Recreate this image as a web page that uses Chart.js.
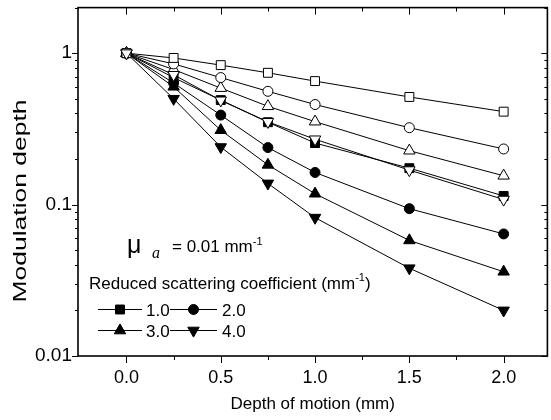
<!DOCTYPE html>
<html>
<head>
<meta charset="utf-8">
<title>Modulation depth vs depth of motion</title>
<script src="https://cdn.jsdelivr.net/npm/chart.js@4.4.1/dist/chart.umd.min.js"></script>
<style>
    html, body { margin: 0; padding: 0; background: #fff; overflow: hidden; }
    /* canvas a bit wider than the window: the right frame line sits at the picture's edge */
    #wrap { width: 551px; height: 420px; overflow: hidden; }
</style>
</head>
<body>
<div id="wrap"><canvas id="chartModulation" width="555" height="420"></canvas></div>
<script>
'use strict';

// Depth of motion (mm)
const DEPTH = [0, 0.25, 0.5, 0.75, 1.0, 1.5, 2.0];

// filled symbols -> reduced scattering coefficient 1.0 / 2.0 / 3.0 / 4.0 mm^-1
const FILLED_SQUARE   = [1, 0.69, 0.49,  0.35,  0.255, 0.174, 0.114];
const FILLED_CIRCLE   = [1, 0.635, 0.39, 0.238, 0.163, 0.094, 0.064];
const FILLED_TRIANGLE = [1, 0.60, 0.31,  0.183, 0.118, 0.058, 0.036];
const FILLED_TRI_DOWN = [1, 0.50, 0.24,  0.138, 0.082, 0.038, 0.020];

// open symbols (same coefficients, second data set)
const OPEN_SQUARE   = [1, 0.93, 0.834, 0.742, 0.654, 0.514, 0.411];
const OPEN_CIRCLE   = [1, 0.85, 0.69,  0.56,  0.458, 0.322, 0.233];
const OPEN_TRIANGLE = [1, 0.78, 0.588, 0.446, 0.353, 0.227, 0.155];
const OPEN_TRI_DOWN = [1, 0.72, 0.488, 0.352, 0.270, 0.169, 0.108];

const LEGEND_LABELS = ['1.0', '2.0', '3.0', '4.0'];

// ticks
const X_MAJOR = [0, 0.5, 1.0, 1.5, 2.0];
const X_LABELS = ['0.0', '0.5', '1.0', '1.5', '2.0'];
const X_MINOR = [0.25, 0.75, 1.25, 1.75];
const Y_MAJOR = [0.01, 0.1, 1];
const Y_LABELS = ['0.01', '0.1', '1'];
const Y_MINOR = [0.02, 0.03, 0.04, 0.05, 0.06, 0.07, 0.08, 0.09,
                 0.2, 0.3, 0.4, 0.5, 0.6, 0.7, 0.8, 0.9, 2];

const FONT = "'Liberation Sans', Arial, sans-serif";

function punkty(values) {
    return DEPTH.map((d, i) => ({ x: d, y: values[i] }));
}

function seria(label, values, style, filled, order) {
    const radius = style === 'circle' ? 5 : (style === 'rect' ? 6.3 : 6.6);
    const down = style === 'triDown';
    return {
        label: label,
        data: punkty(values),
        borderColor: '#000',
        borderWidth: 1,
        pointStyle: down ? 'triangle' : style,
        rotation: down ? 180 : 0,
        pointRadius: radius,
        pointHoverRadius: radius,
        pointBorderWidth: 1,
        pointBorderColor: '#000',
        pointBackgroundColor: filled ? '#000' : '#fff',
        fill: false,
        tension: 0,
        order: order
    };
}

const datasets = [
    seria('open 1.0', OPEN_SQUARE, 'rect', false, 1),
    seria('open 2.0', OPEN_CIRCLE, 'circle', false, 1),
    seria('open 3.0', OPEN_TRIANGLE, 'triangle', false, 1),
    seria('open 4.0', OPEN_TRI_DOWN, 'triDown', false, 0),
    seria(LEGEND_LABELS[0], FILLED_SQUARE, 'rect', true, 2),
    seria(LEGEND_LABELS[1], FILLED_CIRCLE, 'circle', true, 2),
    seria(LEGEND_LABELS[2], FILLED_TRIANGLE, 'triangle', true, 2),
    seria(LEGEND_LABELS[3], FILLED_TRI_DOWN, 'triDown', true, 2)
];

// no extra room for half labels - the frame must sit where the original is
function bezPaddingu(s) {
    s.paddingTop = 0;
    s.paddingBottom = 0;
    s.paddingLeft = 0;
    s.paddingRight = 0;
}

// frame with Origin-like ticks: out on bottom/left, in on top/right
const frameTicks = {
    id: 'frameTicks',
    afterDraw(chart) {
        const { ctx, chartArea: a, scales: { x, y } } = chart;
        ctx.save();
        ctx.strokeStyle = '#000';
        ctx.lineWidth = 1;
        ctx.beginPath();
        const tx = (v, len) => {
            const px = Math.round(x.getPixelForValue(v)) + 0.5;
            ctx.moveTo(px, a.bottom); ctx.lineTo(px, a.bottom + len);
            ctx.moveTo(px, a.top); ctx.lineTo(px, a.top + len);
        };
        const ty = (v, len) => {
            const py = Math.round(y.getPixelForValue(v)) + 0.5;
            ctx.moveTo(a.left, py); ctx.lineTo(a.left - len, py);
            ctx.moveTo(a.right, py); ctx.lineTo(a.right - len, py);
        };
        X_MAJOR.forEach(v => tx(v, 7));
        X_MINOR.forEach(v => tx(v, 4));
        Y_MAJOR.forEach(v => ty(v, 6));
        Y_MINOR.forEach(v => ty(v, 3));
        ctx.stroke();
        ctx.lineWidth = 1.6;
        ctx.strokeRect(a.left, a.top, a.right - a.left, a.bottom - a.top);
        ctx.restore();
    }
};

// y title, annotation and the legend of filled symbols
const annotations = {
    id: 'annotations',
    afterDraw(chart) {
        const ctx = chart.ctx;
        const drawPoint = Chart.helpers.drawPoint;
        ctx.save();
        ctx.fillStyle = '#000';
        ctx.strokeStyle = '#000';
        ctx.textBaseline = 'alphabetic';

        // y axis title
        ctx.save();
        ctx.translate(26, 201);
        ctx.rotate(-Math.PI / 2);
        ctx.font = '19px ' + FONT;
        const t = 'Modulation depth';
        const k = 203 / ctx.measureText(t).width;
        ctx.scale(k, 1);
        ctx.textAlign = 'center';
        ctx.fillText(t, 0, 0);
        ctx.restore();

        // mu_a = 0.01 mm-1
        ctx.font = '25px ' + FONT;
        ctx.fillText('\u03bc', 127, 253);
        ctx.font = "italic 16px 'Liberation Serif', serif";
        ctx.fillText('a', 152, 258);
        ctx.font = '17px ' + FONT;
        ctx.fillText('= 0.01 mm', 172, 252);
        let w = ctx.measureText('= 0.01 mm').width;
        ctx.font = '11px ' + FONT;
        ctx.fillText('-1', 172 + w, 245);

        ctx.font = '17px ' + FONT;
        const r1 = 'Reduced scattering coefficient (mm';
        ctx.fillText(r1, 89, 289);
        w = ctx.measureText(r1).width;
        ctx.font = '11px ' + FONT;
        ctx.fillText('-1', 89 + w, 281);
        const w2 = ctx.measureText('-1').width;
        ctx.font = '17px ' + FONT;
        ctx.fillText(')', 89 + w + w2, 289);

        // legend: 2 x 2
        const filled = chart.data.datasets.slice(4);
        const cols = [{ x0: 98, x1: 142, tx: 146 }, { x0: 170, x1: 217, tx: 222 }];
        const rows = [309, 330];
        filled.forEach((ds, i) => {
            const c = cols[i % 2];
            const yy = rows[Math.floor(i / 2)];
            ctx.lineWidth = 1;
            ctx.beginPath();
            ctx.moveTo(c.x0, yy + 0.5);
            ctx.lineTo(c.x1, yy + 0.5);
            ctx.stroke();
            drawPoint(ctx, {
                pointStyle: ds.pointStyle,
                rotation: ds.rotation,
                radius: ds.pointRadius,
                borderWidth: 1
            }, (c.x0 + c.x1) / 2, yy + 0.5);
            ctx.font = '17px ' + FONT;
            ctx.fillText(ds.label, c.tx, yy + 6.5);
        });
        ctx.restore();
    }
};

function rysujWykres() {
    const ctx = document.getElementById('chartModulation');
    if (!ctx || !window.Chart) return;

    new Chart(ctx, {
        type: 'line',
        data: { datasets: datasets },
        options: {
            responsive: false,
            animation: false,
            devicePixelRatio: 1,
            layout: { padding: { top: 7, right: 0, left: 0, bottom: 0 } },
            plugins: {
                legend: { display: false },
                tooltip: { enabled: false }
            },
            scales: {
                x: {
                    type: 'linear',
                    min: -0.257,
                    max: 2.232,
                    grid: { display: false, drawTicks: false },
                    border: { display: false },
                    afterBuildTicks: s => { s.ticks = X_MAJOR.map(v => ({ value: v })); },
                    afterFit: s => { s.height = 64; bezPaddingu(s); },
                    ticks: {
                        autoSkip: false,
                        maxRotation: 0,
                        padding: 11,
                        color: '#000',
                        font: { family: FONT, size: 18 },
                        callback: (v, i) => X_LABELS[i]
                    },
                    title: {
                        display: true,
                        text: 'Depth of motion (mm)',
                        color: '#000',
                        font: { family: FONT, size: 17 },
                        padding: { top: 0, bottom: 5 }
                    }
                },
                y: {
                    type: 'logarithmic',
                    min: 0.01,
                    max: 2,
                    grid: { display: false, drawTicks: false },
                    border: { display: false },
                    afterBuildTicks: s => { s.ticks = Y_MAJOR.map(v => ({ value: v })); },
                    afterFit: s => { s.width = 78; bezPaddingu(s); },
                    ticks: {
                        autoSkip: false,
                        padding: 6,
                        color: '#000',
                        font: { family: FONT, size: 19 },
                        callback: (v, i) => Y_LABELS[i]
                    }
                }
            }
        },
        plugins: [frameTicks, annotations]
    });
}

document.addEventListener('DOMContentLoaded', rysujWykres);
</script>
</body>
</html>
